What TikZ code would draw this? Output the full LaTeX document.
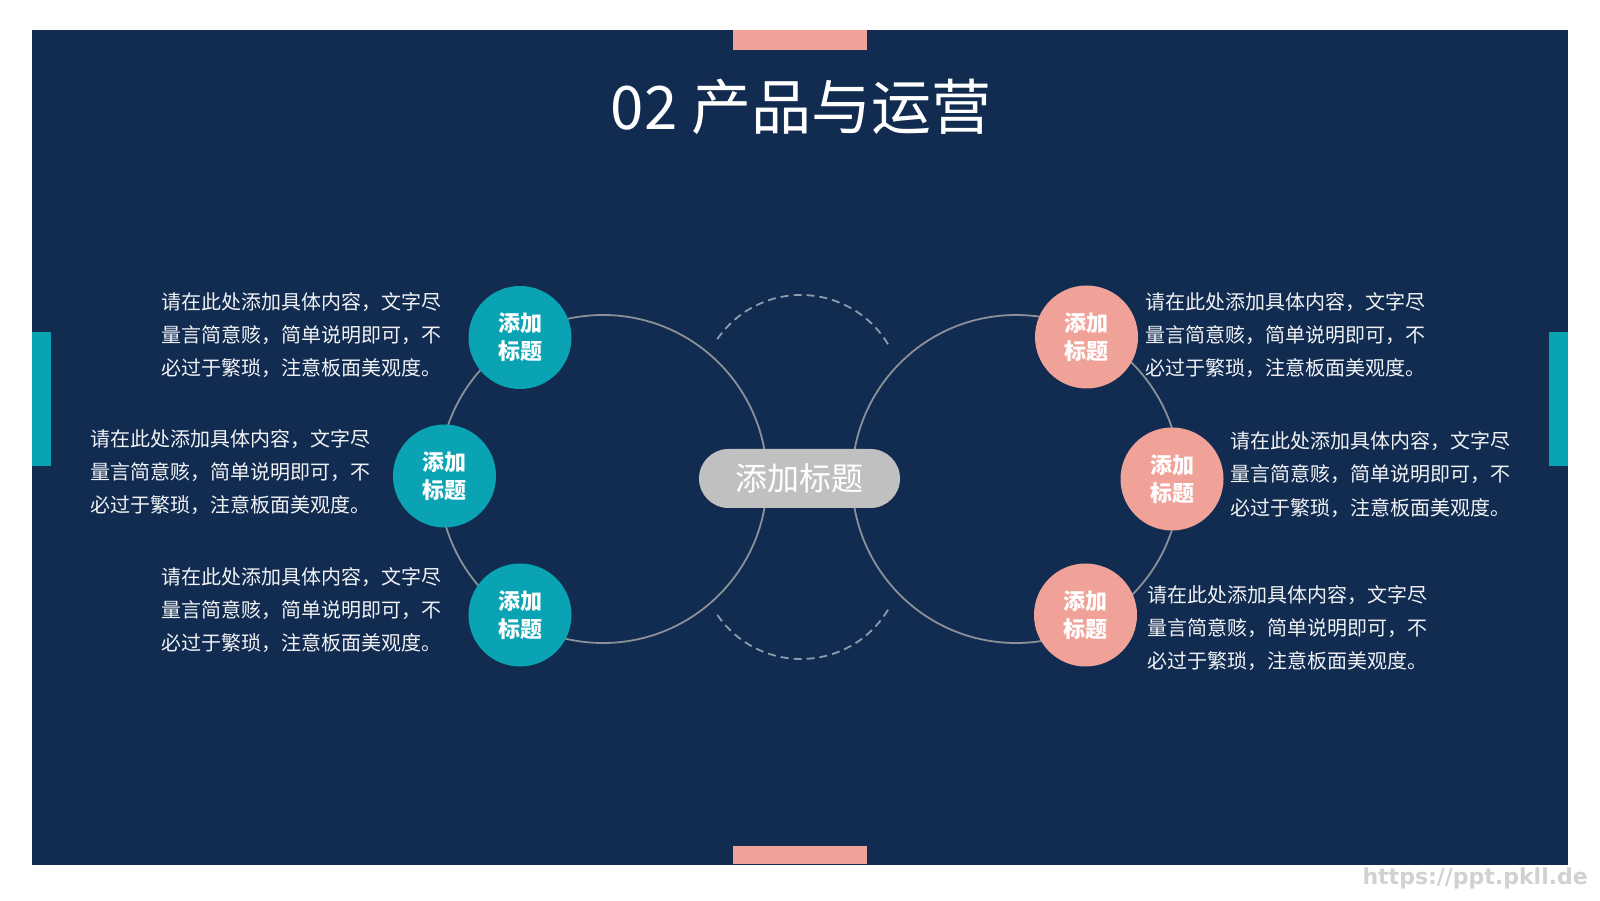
\documentclass[tikz,border=0pt]{standalone}
\usepackage{fontspec}
\setmainfont{Noto Sans CJK SC}
\newfontfamily\markfont{DejaVu Sans}
\usepackage{tikz}

\definecolor{navy}{HTML}{112C50}
\definecolor{tealmark}{HTML}{0AA3B3}
\definecolor{salmonmark}{HTML}{F0A299}
\definecolor{ringgray}{HTML}{8C9098}
\definecolor{dashgray}{HTML}{8D9BAD}
\definecolor{pillgray}{HTML}{C0C0C0}

\newcommand{\blurb}{请在此处添加具体内容，文字尽\\量言简意赅，简单说明即可，不\\必过于繁琐，注意板面美观度。}

\begin{document}
\begin{tikzpicture}[x=1pt, y=1pt,
    badge/.style={circle, minimum size=103pt, inner sep=0pt, text=white, align=center,
                  font=\fontsize{22}{28}\selectfont\bfseries},
    desc/.style={anchor=west, inner sep=0pt, text=white!94!navy, align=left,
                 font=\fontsize{20}{33.3}\selectfont},
    ring/.style={draw=ringgray, line width=1.8pt}]
                \useasboundingbox (0,0) rectangle (1600,900);
                \fill[white] (0,0) rectangle (1600,900);
                \fill[navy] (32,35) rectangle (1568,870);
                
                \fill[salmonmark] (733,850) rectangle (867,870);
                \fill[salmonmark] (733,36) rectangle (867,54);
                \fill[tealmark] (32,434) rectangle (51,568);
                \fill[tealmark] (1549,434) rectangle (1568,568);
                
                \node[text=white, font=\fontsize{60}{60}\selectfont] (title) at (801,793) {02 产品与运营};
                
                \draw[ring] (603,421) circle (164);
                \draw[ring] (1016,421) circle (164);
                \draw[ring, draw=dashgray, dash pattern=on 8pt off 5pt] (801,503.5) ++(31:101.5) arc (31:147:101.5);
                \draw[ring, draw=dashgray, dash pattern=on 8pt off 5pt] (801,342.5) ++(-31:101.5) arc (-31:-147:101.5);
                
                \node[fill=pillgray, rounded corners=29.5pt, minimum width=201pt, minimum height=59pt,
                      text=white, font=\fontsize{32}{32}\selectfont] (hub) at (799.5,421.5) {添加标题};
                
                \foreach \n/\x/\y/\c in {l1/520/562.5/tealmark, l2/444.5/424/tealmark, l3/520/285/tealmark,
                                          r1/1086.5/563/salmonmark, r2/1172/421/salmonmark, r3/1085.5/285/salmonmark}
                    { \node[badge, fill=\c] (\n) at (\x,\y) {添加\\标题}; }
                
                \foreach \n/\x/\y in {tl1/161/565, tl2/90/427.7, tl3/161/290,
                                      tr1/1145/565, tr2/1230/425.5, tr3/1147/272}
                    { \node[desc] (\n) at (\x,\y) {\blurb}; }
                
                \node[anchor=base east, inner sep=0pt, text=black!18, font=\markfont\bfseries\fontsize{22}{22}\selectfont] (mark) at (1588,16) {https://ppt.pkll.de};
\end{tikzpicture}
\end{document}
